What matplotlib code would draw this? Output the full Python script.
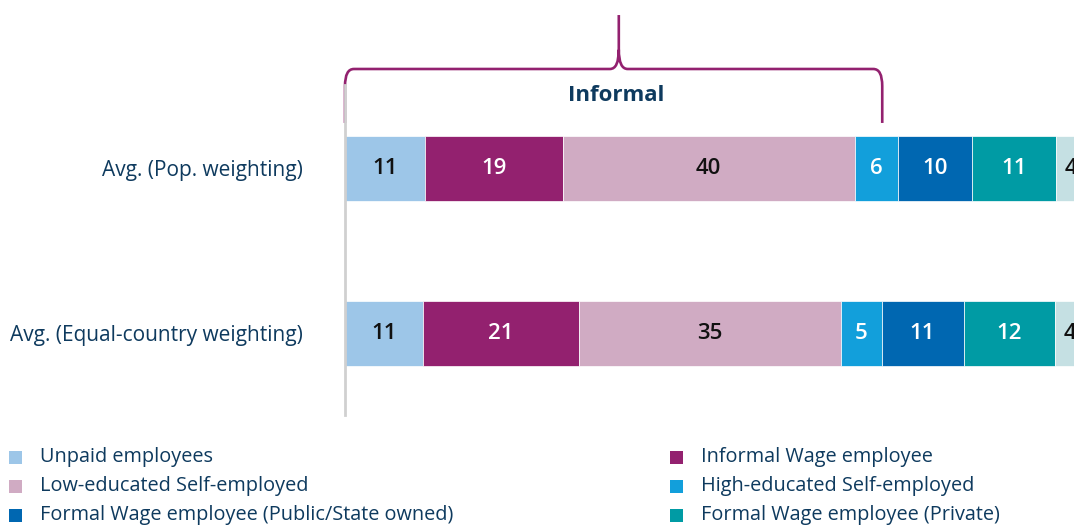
import matplotlib
matplotlib.use("Agg")
import matplotlib.pyplot as plt
from matplotlib.path import Path
from matplotlib.patches import PathPatch, Rectangle

plt.rcParams['font.family'] = ['Open Sans', 'DejaVu Sans']

# ---------------- data ----------------
rows = ["Avg. (Pop. weighting)", "Avg. (Equal-country weighting)"]
series = [
    "Unpaid employees",
    "Informal Wage employee",
    "Low-educated Self-employed",
    "High-educated Self-employed",
    "Formal Wage employee (Public/State owned)",
    "Formal Wage employee (Private)",
    "Other",
]
# shares (%)
shares_pop = [10.8, 18.6, 39.5, 5.8, 10.0, 11.4, 3.9]
shares_equal = [10.5, 21.1, 35.4, 5.5, 11.1, 12.4, 4.0]
# rounded labels printed on the bars
labels_pop = [11, 19, 40, 6, 10, 11, 4]
labels_equal = [11, 21, 35, 5, 11, 12, 4]
colors = ["#9DC6E8", "#93216F", "#D0ABC3", "#129FDB", "#0067B1", "#009BA4", "#C5E0E3"]
label_colors = ["#111111", "white", "#111111", "white", "white", "white", "#111111"]
bracket_label = "Informal"
bracket_end = 72.6
bracket_mid = 37.0

text_color = "#0E3A5E"
purple = "#93216F"

W, H = 1074, 525
fig = plt.figure(figsize=(W / 100, H / 100), dpi=100)
ax = fig.add_axes([345 / W, (H - 415) / H, 740 / W, 330 / H])

ypos = [1, 0]
for r, vals, labs in zip(ypos, [shares_pop, shares_equal], [labels_pop, labels_equal]):
    left = 0
    for i, (v, lab) in enumerate(zip(vals, labs)):
        ax.barh(r, v, left=left, height=0.394, color=colors[i], edgecolor="white",
                linewidth=0.5)
        ax.text(left + v / 2, r, str(lab), ha="center", va="center", fontsize=16,
                color=label_colors[i], fontweight="semibold", clip_on=False)
        left += v

ax.set_xlim(0, 100)
ax.set_ylim(-0.494, 1.506)
ax.set_yticks(ypos)
ax.set_yticklabels(rows, fontsize=15, color=text_color)
ax.tick_params(axis="y", length=0, pad=30)
ax.set_xticks([])
for s in ["top", "right", "bottom"]:
    ax.spines[s].set_visible(False)
ax.spines["left"].set_color("#D0D0D0")
ax.spines["left"].set_linewidth(2)

# ---------------- bracket ----------------
yb, yh, yc, ys, yt = 1.276, 1.603, 1.50, 1.72, 1.93
m, e = bracket_mid, bracket_end
verts = [
    (0, yb), (0, yc), (0, yh), (1.2, yh), (m - 1.2, yh), (m, yh), (m, ys), (m, yt),
    (m, ys), (m, yh), (m + 1.2, yh), (e - 1.2, yh), (e, yh), (e, yc), (e, yb),
]
codes = [
    Path.MOVETO, Path.LINETO, Path.CURVE3, Path.CURVE3, Path.LINETO, Path.CURVE3, Path.CURVE3,
    Path.LINETO,
    Path.MOVETO, Path.CURVE3, Path.CURVE3, Path.LINETO, Path.CURVE3, Path.CURVE3, Path.LINETO,
]
ax.add_patch(PathPatch(Path(verts, codes), facecolor="none", edgecolor=purple,
                       linewidth=1.9, clip_on=False, capstyle="butt", joinstyle="round"))
ax.text(m - 0.3, 1.445, bracket_label, ha="center", va="center", fontsize=16,
        fontweight="bold", color=text_color, clip_on=False)

# ---------------- legend (row-wise, two columns) ----------------
col_x = [9, 670]
row_y0, row_dy = 457, 29
for k, (name, c) in enumerate(zip(series, colors)):
    col, row = k % 2, k // 2
    x = col_x[col]
    y = row_y0 + row * row_dy
    if y > H:
        continue
    fig.patches.append(Rectangle((x / W, 1 - (y + 6.5) / H), 13 / W, 13 / H,
                                 transform=fig.transFigure, facecolor=c,
                                 edgecolor="none", figure=fig))
    fig.text((x + 31) / W, 1 - y / H, name, ha="left", va="center", fontsize=14.3,
             color=text_color)

fig.savefig("out.png", dpi=100)
